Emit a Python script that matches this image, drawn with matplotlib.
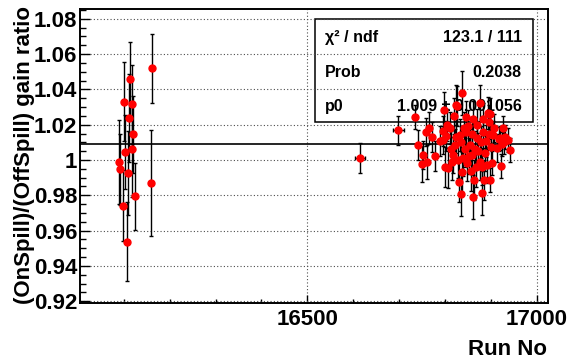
import matplotlib
matplotlib.use("Agg")
import matplotlib.pyplot as plt
from matplotlib.patches import Rectangle
from matplotlib.ticker import MultipleLocator, FuncFormatter

# gain ratio per run (OnSpill / OffSpill) with errors
run = [16089, 16092, 16099, 16101, 16103, 16107, 16109, 16111, 16114, 16117,
       16119, 16121, 16124, 16159, 16162,
       16615, 16698,
       16735, 16741, 16752, 16750, 16759, 16766, 16762, 16789, 16795, 16802,
       16796, 16811, 16820, 16827, 16842, 16847, 16862, 16884, 16895, 16900,
       16869, 16855, 16800, 16807, 16840, 16848, 16876, 16902, 16880, 16831,
       16863, 16885, 16898, 16834, 16861, 16881, 16920, 16822, 16833, 16818,
       16858, 16887, 16913, 16797, 16837, 16846, 16877, 16893, 16927, 16918,
       16929, 16938, 16942, 16922, 16825, 16899,
       16805, 16813, 16816, 16824, 16829, 16836, 16838, 16844, 16850, 16852,
       16856, 16860, 16865, 16867, 16871, 16873, 16879, 16882, 16889, 16891,
       16896, 16904, 16908, 16924, 16932, 16778, 16771]
ratio = [0.9986, 0.9947, 0.9741, 1.0330, 1.0046, 0.9537, 0.9927, 1.0236, 1.0460, 1.0060,
         1.0315, 1.0145, 0.9795, 0.9869, 1.0519,
         1.0012, 1.0169,
         1.0241, 1.0083, 1.0029, 0.9977, 1.0160, 1.0182, 0.9990, 1.0107, 1.0164, 1.0137,
         1.0113, 1.0179, 1.0250, 1.0307, 1.0179, 1.0156, 1.0232, 1.0160, 1.0216, 1.0075,
         1.0126, 1.0084, 0.9961, 0.9956, 1.0009, 0.9981, 0.9990, 0.9981, 0.9961, 0.9876,
         0.9886, 0.9886, 0.9886, 0.9805, 0.9792, 0.9814, 1.0122, 1.0084, 1.0141, 1.0028,
         1.0028, 1.0037, 1.0066, 1.0283, 1.0381, 1.0243, 1.0322, 1.0264, 1.0181, 1.0118,
         1.0103, 1.0113, 1.0056, 0.9967, 1.0311, 1.0260,
         1.0200, 1.0060, 0.9990, 1.0130, 1.0000, 1.0100, 0.9930, 1.0060, 1.0190, 1.0020,
         0.9940, 1.0150, 1.0060, 0.9960, 1.0200, 1.0050, 1.0100, 1.0230, 1.0110, 0.9970,
         1.0150, 1.0140, 1.0180, 1.0090, 1.0130, 1.0020, 1.0130]
ratio_err = [0.0238, 0.0200, 0.0200, 0.0224, 0.0210, 0.0224, 0.0240, 0.0250, 0.0210, 0.0270,
             0.0225, 0.0220, 0.0190, 0.0300, 0.0195,
             0.0087, 0.0083,
             0.0068, 0.0085, 0.0079, 0.0102, 0.0079, 0.0091, 0.0096, 0.0085, 0.0085, 0.0085,
             0.0079, 0.0091, 0.0102, 0.0113, 0.0091, 0.0091, 0.0102, 0.0091, 0.0096, 0.0085,
             0.0091, 0.0091, 0.0113, 0.0113, 0.0102, 0.0102, 0.0102, 0.0068, 0.0102, 0.0113,
             0.0113, 0.0113, 0.0068, 0.0125, 0.0125, 0.0125, 0.0068, 0.0091, 0.0091, 0.0102,
             0.0102, 0.0102, 0.0079, 0.0102, 0.0125, 0.0091, 0.0102, 0.0091, 0.0068, 0.0068,
             0.0068, 0.0068, 0.0068, 0.0068, 0.0113, 0.0091,
             0.0091, 0.0102, 0.0102, 0.0091, 0.0102, 0.0091, 0.0113, 0.0102, 0.0091, 0.0102,
             0.0113, 0.0091, 0.0102, 0.0113, 0.0091, 0.0102, 0.0091, 0.0091, 0.0091, 0.0102,
             0.0091, 0.0079, 0.0079, 0.0068, 0.0068, 0.0085, 0.0085]
run_err = [0] * 15 + [10, 12] + [0] * (len(run) - 17)

# pol0 fit result
p0 = 1.009
p0_err = 0.001056
chi2 = 123.1
ndf = 111
prob = 0.2038

plt.rcParams['font.family'] = 'Liberation Sans'
plt.rcParams['font.weight'] = 'bold'

fig = plt.figure(figsize=(5.72, 3.6), dpi=100)
ax = fig.add_axes([0.139, 0.158, 0.8185, 0.8167])

ax.set_xlim(16003.5, 17024)
ax.set_ylim(0.9189, 1.0855)

ax.set_axisbelow(True)
ax.grid(True, which='major', linestyle=(0, (1, 2)), color='0.3', linewidth=0.8)

# stats box
ax.add_patch(Rectangle((0.503, 0.6156), 0.4656, 0.3504, transform=ax.transAxes,
                       facecolor='white', edgecolor='black', linewidth=1.1, zorder=0.2))
rows = [("χ² / ndf", "%.1f / %d" % (chi2, ndf), 0.8888),
        ("Prob", "%.4f" % prob, 0.7697),
        ("p0", "%.3f ± %.6f" % (p0, p0_err), 0.654)]
for name, val, ypos in rows:
    ax.text(0.5243, ypos, name, transform=ax.transAxes, fontsize=11.5,
            ha='left', va='baseline', zorder=0.3)
    ax.text(0.9445, ypos, val, transform=ax.transAxes, fontsize=11.5,
            ha='right', va='baseline', zorder=0.3)

ax.axhline(p0, color='black', linewidth=1.2, zorder=2)

ax.errorbar(run, ratio, yerr=ratio_err, xerr=run_err, fmt='o', ms=5,
            mfc='red', mec='red', ecolor='black', elinewidth=1.0,
            capsize=1.6, capthick=1.0, zorder=3)

ax.xaxis.set_major_locator(MultipleLocator(500))
ax.xaxis.set_minor_locator(MultipleLocator(100))
ax.yaxis.set_major_locator(MultipleLocator(0.02))
ax.yaxis.set_minor_locator(MultipleLocator(0.005))
ax.yaxis.set_major_formatter(FuncFormatter(lambda v, pos: "%g" % round(v, 3)))
ax.xaxis.set_major_formatter(FuncFormatter(lambda v, pos: "%d" % v))

ax.tick_params(axis='both', which='both', direction='in', labelsize=16,
               top=False, right=False)
ax.tick_params(axis='x', which='major', length=6, width=1, pad=4)
ax.tick_params(axis='x', which='minor', length=3, width=1)
ax.tick_params(axis='y', which='major', length=7, width=1, pad=1.5)
ax.tick_params(axis='y', which='minor', length=4.5, width=1)

for s in ax.spines.values():
    s.set_linewidth(1.4)

fig.text(25 / 572, 1 - 6 / 360, "(OnSpill)/(OffSpill) gain ratio", rotation=90,
         ha='center', va='top', fontsize=16)
fig.text(547 / 572, 1 - 355 / 360, "Run No", ha='right', va='baseline', fontsize=16)

fig.savefig("out.png", dpi=100)
